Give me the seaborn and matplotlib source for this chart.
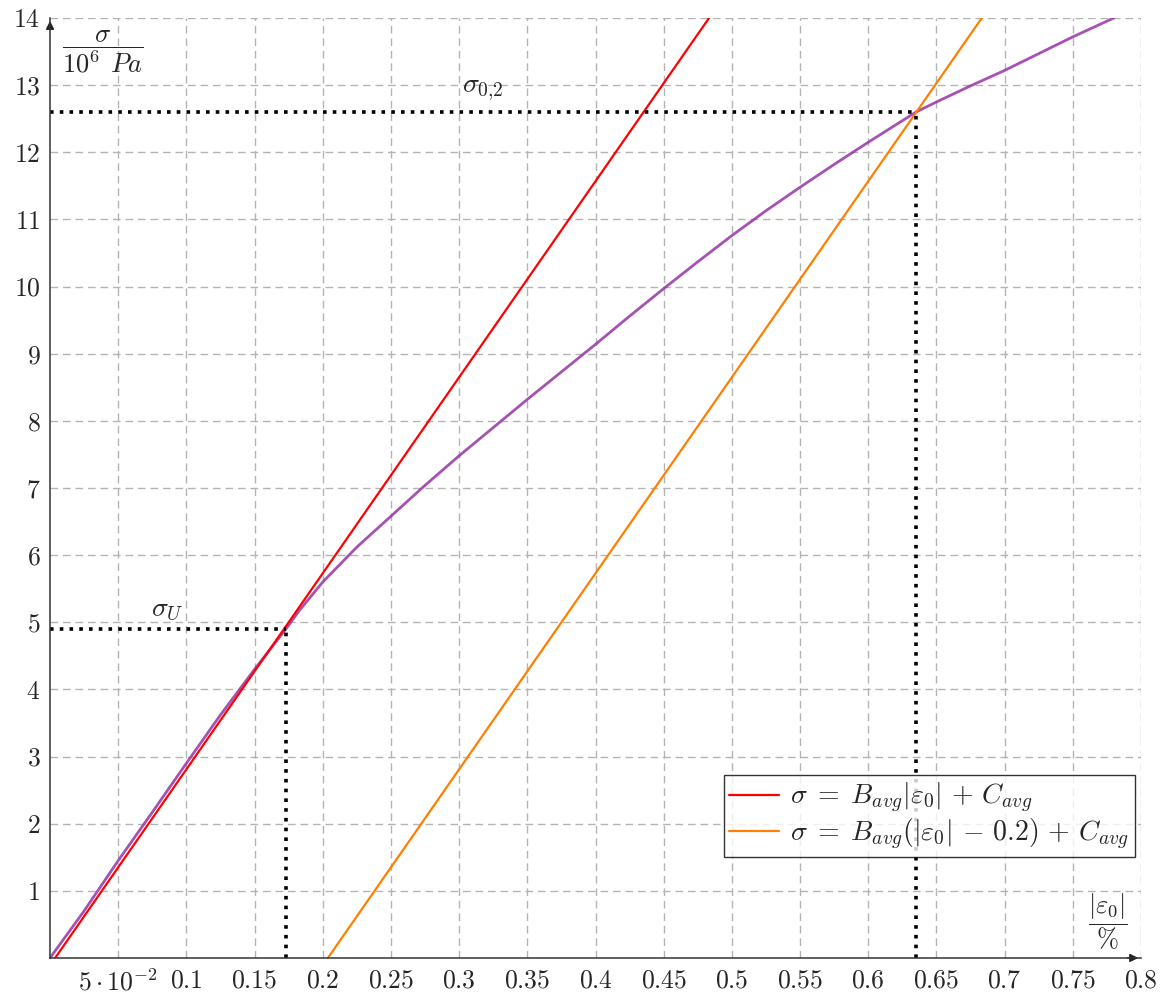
import numpy as np
import pandas as pd
import matplotlib
matplotlib.use("Agg")
import matplotlib.pyplot as plt
import seaborn as sns

# Measured stress-strain curve
strain = [0.0, 0.025, 0.05, 0.075, 0.1, 0.125, 0.15, 0.173, 0.183, 0.2, 0.225,
          0.25, 0.275, 0.3, 0.325, 0.35, 0.375, 0.4, 0.425, 0.45, 0.475, 0.5,
          0.525, 0.55, 0.575, 0.6, 0.635, 0.65, 0.675, 0.7, 0.725, 0.75, 0.78]
stress = [0.0, 0.7, 1.45, 2.17, 2.9, 3.62, 4.3, 4.9, 5.18, 5.6, 6.12,
          6.58, 7.04, 7.48, 7.9, 8.32, 8.73, 9.14, 9.56, 9.97, 10.37, 10.76,
          11.13, 11.48, 11.82, 12.15, 12.6, 12.75, 12.99, 13.22, 13.47, 13.72, 14.0]

# Linear fit of the elastic range
B_avg = 29.2
C_avg = -0.11
offset = 0.2
fit_strain = [0.0, 0.8]

# Characteristic points
eps_U, sig_U = 0.173, 4.9
eps_02, sig_02 = 0.635, 12.6

x_ticks = [0.05, 0.1, 0.15, 0.2, 0.25, 0.3, 0.35, 0.4, 0.45, 0.5, 0.55, 0.6,
           0.65, 0.7, 0.75, 0.8]
x_tick_labels = [r"$5\cdot10^{-2}$", "$0.1$", "$0.15$", "$0.2$", "$0.25$", "$0.3$",
                 "$0.35$", "$0.4$", "$0.45$", "$0.5$", "$0.55$", "$0.6$", "$0.65$",
                 "$0.7$", "$0.75$", "$0.8$"]
y_ticks = list(range(1, 15))
y_tick_labels = [f"${v}$" for v in y_ticks]

sns.set_theme(style="white")
plt.rcParams["mathtext.fontset"] = "cm"
plt.rcParams["font.family"] = ["cmr10", "DejaVu Serif"]
plt.rcParams["axes.unicode_minus"] = False

fig = plt.figure(figsize=(11.66, 9.96), dpi=100)
ax = fig.add_axes([0.0429, 0.0382, 0.9357, 0.9437])

curve = pd.DataFrame({"strain": strain, "stress": stress})
fit = pd.DataFrame({"strain": fit_strain})
fit["red"] = B_avg * fit["strain"] + C_avg
fit["orange"] = B_avg * (fit["strain"] - offset) + C_avg

sns.lineplot(data=curve, x="strain", y="stress", ax=ax, color="#9634a6",
             lw=2.0, alpha=0.85, zorder=3, sort=False)
sns.lineplot(data=fit, x="strain", y="red", ax=ax, color="#ff0000", lw=1.6,
             zorder=4,
             label=r"$\sigma\;=\;B_{avg}|\varepsilon_0|\,+\,C_{avg}$")
sns.lineplot(data=fit, x="strain", y="orange", ax=ax, color="#ff8000", lw=1.6,
             zorder=4,
             label=r"$\sigma\;=\;B_{avg}(|\varepsilon_0|\,-\,0.2)\,+\,C_{avg}$")

# Dotted guide lines to the characteristic points
for ex, sy in [(eps_U, sig_U), (eps_02, sig_02)]:
    ax.plot([0, ex], [sy, sy], color="black", lw=2.6, dashes=(1, 1.7),
            dash_capstyle="butt", zorder=5)
    ax.plot([ex, ex], [0, sy], color="black", lw=2.6, dashes=(1, 1.7),
            dash_capstyle="butt", zorder=5)

ax.text(0.086, 5.18, r"$\sigma_U$", fontsize=20, ha="center", va="center")
ax.text(0.3175, 12.93, r"$\sigma_{0{,}2}$", fontsize=20, ha="center", va="center")

ax.set_xlim(0, 0.8)
ax.set_ylim(0, 14)
ax.set_xticks(x_ticks)
ax.set_xticklabels(x_tick_labels, fontsize=18.5)
ax.set_yticks(y_ticks)
ax.set_yticklabels(y_tick_labels, fontsize=18.5)
ax.tick_params(axis="both", direction="inout", length=6, width=1, color="#a0a0a0",
               pad=5)
ax.tick_params(axis="y", pad=4)
ax.grid(True, color="#b4b4b4", lw=1, dashes=(5.5, 3.5))
ax.set_axisbelow(True)
ax.set_xlabel("")
ax.set_ylabel("")

for side in ["top", "right"]:
    ax.spines[side].set_visible(False)
for side in ["left", "bottom"]:
    ax.spines[side].set_color("#333333")
    ax.spines[side].set_linewidth(1.1)
    ax.spines[side].set_zorder(6)

# Arrow heads on the axes
ax.annotate("", xy=(1.0, 0), xytext=(0.985, 0), xycoords="axes fraction",
            arrowprops=dict(arrowstyle="-|>", color="#222222", lw=1.1,
                            mutation_scale=12), annotation_clip=False)
ax.annotate("", xy=(0, 1.0), xytext=(0, 0.985), xycoords="axes fraction",
            arrowprops=dict(arrowstyle="-|>", color="#222222", lw=1.1,
                            mutation_scale=12), annotation_clip=False)

# Axis titles as fractions
ax.text(0.0389, 13.5, r"$\dfrac{\sigma}{10^6\;\,Pa}$", fontsize=19, ha="center",
        va="center")
ax.text(0.776, 0.55, r"$\dfrac{|\varepsilon_0|}{\%}$", fontsize=19, ha="center",
        va="center")

leg = ax.legend(loc="lower right", bbox_to_anchor=(0.9945, 0.107), fontsize=20,
                frameon=True, fancybox=False, edgecolor="black",
                handlelength=1.8, handletextpad=0.4, borderpad=0.2,
                labelspacing=0.05, borderaxespad=0)
leg.get_frame().set_linewidth(1.0)
leg.set_zorder(7)

fig.savefig("out.png", dpi=100, facecolor="white")
